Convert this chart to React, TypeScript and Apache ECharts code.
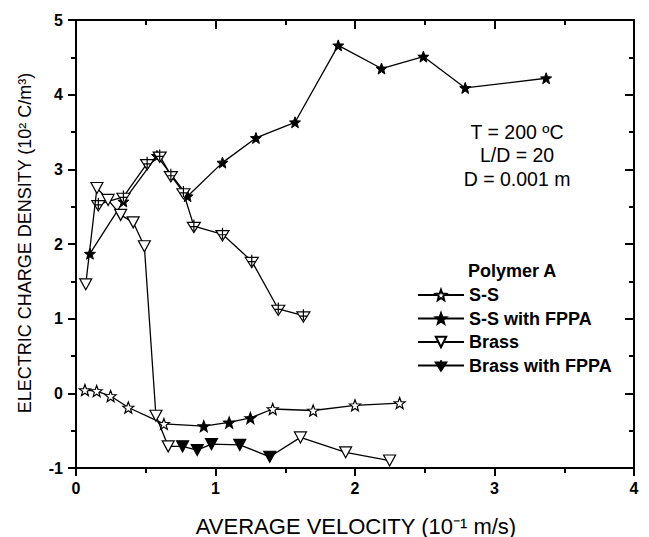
import React, { useEffect, useRef } from 'react';
import * as echarts from 'echarts';

// S-S (open stars, lower curve)
const ssX = [0.064, 0.148, 0.248, 0.375, 0.63, 0.916, 1.098, 1.25, 1.41, 1.70, 2.00, 2.32];
const ssY = [0.044, 0.031, -0.036, -0.19, -0.41, -0.44, -0.39, -0.33, -0.21, -0.23, -0.16, -0.13];
const ssFilled = [5, 6, 7];

// S-S with FPPA (filled stars, upper curve)
const ssfX = [0.10, 0.34, 0.58, 0.80, 1.05, 1.29, 1.57, 1.88, 2.19, 2.49, 2.79, 3.37];
const ssfY = [1.87, 2.57, 3.18, 2.64, 3.09, 3.42, 3.63, 4.66, 4.35, 4.51, 4.09, 4.22];

// Brass (open down triangles)
const brassX = [0.07, 0.15, 0.23, 0.32, 0.41, 0.49, 0.573, 0.661, 0.764, 0.869, 0.971, 1.174, 1.389, 1.609, 1.933, 2.248];
const brassY = [1.46, 2.75, 2.59, 2.39, 2.29, 1.97, -0.30, -0.71, -0.71, -0.76, -0.68, -0.69, -0.85, -0.59, -0.79, -0.90];
const brassFilled = [8, 9, 10, 11, 12];

// Brass with FPPA
const bfX = [0.16, 0.34, 0.51, 0.60, 0.68, 0.77, 0.845, 1.05, 1.26, 1.45, 1.63];
const bfY = [2.53, 2.63, 3.08, 3.18, 2.92, 2.69, 2.24, 2.13, 1.77, 1.13, 1.04];

const seriesNames = ['S-S', 'S-S with FPPA', 'Brass', 'Brass with FPPA'];
const legendTitle = 'Polymer A';
const annotationLines = ['T = 200 ºC', 'L/D = 20', 'D = 0.001 m'];
const xTitle = 'AVERAGE VELOCITY (10⁻¹ m/s)';
const yTitle = 'ELECTRIC CHARGE DENSITY (10² C/m³)';

const FONT = "'Liberation Sans', Arial, Helvetica, sans-serif";
const STAR = 'path://M10 0 L12.47 6.6 L19.51 6.91 L13.99 11.3 L15.88 18.09 L10 14.2 L4.12 18.09 L6.01 11.3 L0.49 6.91 L7.53 6.6 Z';
const TRI = 'path://M0 0 L12 0 L6 11 Z';
const TRIX = 'path://M0 3 L14 3 L7 14 Z M7 0 L7 12 M2.5 7.5 L11.5 7.5';

function pts(xs: number[], ys: number[], filled: number[] = []) {
  return xs.map((x, i) =>
    filled.indexOf(i) >= 0
      ? { value: [x, ys[i]], itemStyle: { color: '#000' } }
      : { value: [x, ys[i]] }
  );
}

export default function App() {
  const ref = useRef<HTMLDivElement>(null);
  useEffect(() => {
    if (!ref.current) return;
    const chart = echarts.init(ref.current, undefined, { renderer: 'svg' });
    const axisLine = { show: true, onZero: false, lineStyle: { color: '#000', width: 2 } };
    const tickStyle = { color: '#000', width: 2 };
    const labelStyle = { color: '#000', fontSize: 16, fontWeight: 'bold' as const, fontFamily: FONT };
    const lineStyle = { color: '#000', width: 1.3 };
    const openItem = { color: '#fff', borderColor: '#000', borderWidth: 1.2 };
    chart.setOption({
      animation: false,
      backgroundColor: '#fff',
      grid: { left: 76, right: 15, top: 20, bottom: 69, containLabel: false },
      xAxis: [
        {
          type: 'value', position: 'bottom', min: 0, max: 4, interval: 1,
          axisLine, axisTick: { show: true, inside: false, length: 8, lineStyle: tickStyle },
          minorTick: { show: true, splitNumber: 2, length: 5, lineStyle: tickStyle },
          splitLine: { show: false }, minorSplitLine: { show: false },
          axisLabel: { ...labelStyle, margin: 12 },
        },
        {
          type: 'value', position: 'top', min: 0, max: 4, interval: 1,
          axisLine, axisTick: { show: true, inside: true, length: 9, lineStyle: tickStyle },
          minorTick: { show: true, splitNumber: 2, length: 5, lineStyle: tickStyle },
          splitLine: { show: false }, axisLabel: { show: false },
        },
      ],
      yAxis: [
        {
          type: 'value', position: 'left', min: -1, max: 5, interval: 1,
          axisLine, axisTick: { show: true, inside: false, length: 8, lineStyle: tickStyle },
          minorTick: { show: true, splitNumber: 2, length: 5, lineStyle: tickStyle },
          splitLine: { show: false }, minorSplitLine: { show: false },
          axisLabel: { ...labelStyle, margin: 13 },
        },
        {
          type: 'value', position: 'right', min: -1, max: 5, interval: 1,
          axisLine, axisTick: { show: true, inside: true, length: 9, lineStyle: tickStyle },
          minorTick: { show: true, splitNumber: 2, length: 5, lineStyle: tickStyle },
          splitLine: { show: false }, axisLabel: { show: false },
        },
      ],
      legend: {
        orient: 'vertical', left: 417, top: 286, padding: 0,
        itemWidth: 46, itemHeight: 13, itemGap: 5.5,
        textStyle: { fontSize: 18, fontWeight: 'bold', color: '#000', fontFamily: FONT, lineHeight: 18 },
        data: [
          seriesNames[0], seriesNames[1], seriesNames[2],
          { name: seriesNames[3], itemStyle: { color: '#000' } },
        ],
      },
      series: [
        {
          name: seriesNames[0], type: 'line', data: pts(ssX, ssY, ssFilled),
          symbol: STAR, symbolSize: 11, itemStyle: openItem, lineStyle, z: 3,
        },
        {
          name: seriesNames[1], type: 'line', data: pts(ssfX, ssfY),
          symbol: STAR, symbolSize: 11, itemStyle: { color: '#000', borderColor: '#000', borderWidth: 1 }, lineStyle, z: 2,
        },
        {
          name: seriesNames[2], type: 'line', data: pts(brassX, brassY, brassFilled),
          symbol: TRI, symbolSize: [12, 11], itemStyle: openItem, lineStyle, z: 4,
        },
        {
          name: seriesNames[3], type: 'line', data: pts(bfX, bfY),
          symbol: TRIX, symbolSize: [13, 13], itemStyle: openItem, lineStyle, z: 3,
        },
      ],
      graphic: [
        {
          type: 'text', x: 468, y: 271,
          style: { text: legendTitle, fontSize: 18, fontWeight: 'bold', fontFamily: FONT, fill: '#000', textAlign: 'left', textVerticalAlign: 'middle', align: 'left', verticalAlign: 'middle' },
        },
        ...annotationLines.map((t, i) => ({
          type: 'text', x: 517, y: 132 + i * 23.3,
          style: { text: t, fontSize: 19.5, fontFamily: FONT, fill: '#000', textAlign: 'center', textVerticalAlign: 'middle', align: 'center', verticalAlign: 'middle' },
        })),
        {
          type: 'text', x: 356, y: 526,
          style: { text: xTitle, fontSize: 22, fontFamily: FONT, fill: '#000', textAlign: 'center', textVerticalAlign: 'middle', align: 'center', verticalAlign: 'middle' },
        },
        {
          type: 'text', x: 25, y: 243, rotation: Math.PI / 2,
          style: { text: yTitle, fontSize: 18, fontFamily: FONT, fill: '#000', textAlign: 'center', textVerticalAlign: 'middle', align: 'center', verticalAlign: 'middle' },
        },
      ],
    });
    return () => chart.dispose();
  }, []);
  return (
    <div
      ref={ref}
      style={{ position: 'fixed', left: 0, top: 0, width: 649, height: 537, background: '#fff' }}
    />
  );
}
